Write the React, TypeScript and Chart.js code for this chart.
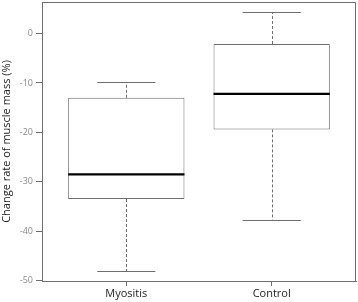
import React, { useEffect, useRef } from "react";
import { Chart, registerables } from "chart.js";

Chart.register(...registerables);

const categories = ["Myositis", "Control"];
const whiskerLow = [-48.1, -37.7];
const q1 = [-33.5, -19.4];
const median = [-28.5, -12.2];
const q3 = [-13.0, -2.1];
const whiskerHigh = [-9.9, 4.3];
const yTicks = [-50, -40, -30, -20, -10, 0];
const yTitle = "Change rate of muscle mass (%)";

const BOX_COLOR = "#6e6e6e";

const boxPlugin = {
  id: "boxplotParts",
  afterDatasetsDraw(chart: any) {
    const { ctx, scales, chartArea } = chart;
    const x = scales.x;
    const y = scales.y;
    ctx.save();
    categories.forEach((_, i) => {
      const cx = x.getPixelForValue(i + 1);
      const capHalf = x.getPixelForValue(i + 1 + 0.2) - cx;
      const boxHalf = x.getPixelForValue(i + 1 + 0.4) - cx;
      ctx.strokeStyle = BOX_COLOR;
      ctx.lineWidth = 1;
      ctx.setLineDash([3, 2]);
      ctx.beginPath();
      ctx.moveTo(Math.round(cx) + 0.5, y.getPixelForValue(q3[i]));
      ctx.lineTo(Math.round(cx) + 0.5, y.getPixelForValue(whiskerHigh[i]));
      ctx.moveTo(Math.round(cx) + 0.5, y.getPixelForValue(q1[i]));
      ctx.lineTo(Math.round(cx) + 0.5, y.getPixelForValue(whiskerLow[i]));
      ctx.stroke();
      ctx.setLineDash([]);
      ctx.beginPath();
      [whiskerHigh[i], whiskerLow[i]].forEach((v) => {
        const py = Math.round(y.getPixelForValue(v)) + 0.5;
        ctx.moveTo(cx - capHalf, py);
        ctx.lineTo(cx + capHalf, py);
      });
      ctx.stroke();
      ctx.strokeStyle = "#000000";
      ctx.lineWidth = 2.2;
      ctx.beginPath();
      const my = y.getPixelForValue(median[i]);
      ctx.moveTo(cx - boxHalf, my);
      ctx.lineTo(cx + boxHalf, my);
      ctx.stroke();
    });
    ctx.strokeStyle = BOX_COLOR;
    ctx.lineWidth = 1;
    ctx.beginPath();
    ctx.moveTo(chartArea.left, chartArea.top + 0.5);
    ctx.lineTo(chartArea.right - 0.5, chartArea.top + 0.5);
    ctx.lineTo(chartArea.right - 0.5, chartArea.bottom);
    ctx.stroke();
    ctx.restore();
  },
};

export default function App() {
  const ref = useRef<HTMLCanvasElement>(null);
  useEffect(() => {
    document.body.style.margin = "0";
    const canvas = ref.current!;
    const chart = new Chart(canvas, {
      type: "bar",
      data: {
        datasets: [
          {
            data: categories.map((_, i) => ({ x: i + 1, y: [q1[i], q3[i]] })) as any,
            backgroundColor: "#ffffff",
            borderColor: BOX_COLOR,
            borderWidth: 1,
            borderSkipped: false,
            barPercentage: 0.8,
            categoryPercentage: 1,
          },
        ],
      },
      options: {
        animation: false,
        responsive: false,
        maintainAspectRatio: false,
        layout: { padding: { top: 2, right: 2, left: 0, bottom: 0 } },
        plugins: { legend: { display: false }, tooltip: { enabled: false } },
        scales: {
          x: {
            type: "linear",
            min: 0.42,
            max: 2.58,
            offset: false,
            afterBuildTicks: (s: any) => {
              s.ticks = categories.map((_, i) => ({ value: i + 1 }));
            },
            afterFit: (s: any) => {
              s.height = 21;
              s.paddingLeft = 0;
              s.paddingRight = 0;
            },
            grid: {
              display: true,
              offset: false,
              drawOnChartArea: false,
              drawTicks: true,
              tickLength: 5,
              color: BOX_COLOR,
            },
            border: { display: true, color: BOX_COLOR, width: 1 },
            ticks: {
              autoSkip: false,
              maxRotation: 0,
              padding: 1,
              color: "#222222",
              font: { family: "Open Sans", size: 11 },
              callback: (v: any) => categories[Number(v) - 1] ?? "",
            },
          },
          y: {
            type: "linear",
            min: -50.1,
            max: 6.4,
            afterBuildTicks: (s: any) => {
              s.ticks = yTicks.map((v) => ({ value: v }));
            },
            afterFit: (s: any) => {
              s.width = 42;
              s.paddingTop = 0;
              s.paddingBottom = 0;
            },
            grid: {
              display: true,
              drawOnChartArea: false,
              drawTicks: true,
              tickLength: 6,
              color: BOX_COLOR,
            },
            border: { display: true, color: BOX_COLOR, width: 1 },
            ticks: {
              padding: 3,
              color: "#8a8a8a",
              font: { family: "Open Sans", size: 9 },
              callback: (v: any) => String(v),
            },
            title: {
              display: true,
              text: yTitle,
              color: "#222222",
              padding: { top: 0, bottom: 0 },
              font: { family: "Open Sans", size: 11 },
            },
          },
        },
      },
      plugins: [boxPlugin],
    });
    return () => chart.destroy();
  }, []);
  return (
    <div style={{ width: 358, height: 302 }}>
      <canvas ref={ref} width={358} height={302} style={{ display: "block", width: 358, height: 302 }} />
    </div>
  );
}
